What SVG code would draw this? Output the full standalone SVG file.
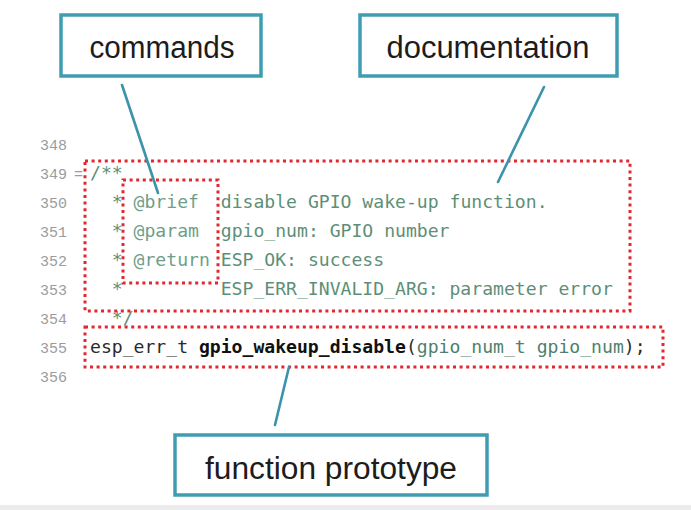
<svg xmlns="http://www.w3.org/2000/svg" width="691" height="510" viewBox="0 0 691 510">
  <style>
    .ln { font-family: "Liberation Mono", "DejaVu Sans Mono", monospace; font-size: 15px; fill: #9c9c9c; }
    .code { font-family: "DejaVu Sans Mono", "Liberation Mono", monospace; font-size: 18.1px; fill: #5d8f78; white-space: pre; }
    .tag { fill: #6f9e89; }
    .plain { fill: #2a2a2a; }
    .fn { fill: #111111; font-weight: bold; }
    .param { fill: #4f7f6c; }
    .mark { fill: none; stroke: #e2272e; stroke-width: 3; stroke-dasharray: 3 3.6; }
    .label rect { fill: #ffffff; stroke: #3f9db2; stroke-width: 3.5; }
    .label text { font-family: "Liberation Sans", Arial, sans-serif; font-size: 31px; fill: #1c1c1c; text-anchor: middle; }
    .conn line { stroke: #3a93aa; stroke-width: 2.6; stroke-linecap: round; }
  </style>

  <rect x="0" y="0" width="691" height="510" fill="#ffffff"/>
  <rect x="0" y="505" width="691" height="5" fill="#ececec"/>

  <!-- editor gutter: line numbers -->
  <g id="gutter">
    <text class="ln" x="40" y="150">348</text>
    <text class="ln" x="40" y="179">349</text>
    <text class="ln" x="74" y="179">=</text>
    <text class="ln" x="40" y="208">350</text>
    <text class="ln" x="40" y="237">351</text>
    <text class="ln" x="40" y="266">352</text>
    <text class="ln" x="40" y="295">353</text>
    <text class="ln" x="40" y="324">354</text>
    <text class="ln" x="40" y="353">355</text>
    <text class="ln" x="40" y="382">356</text>
  </g>

  <!-- source listing -->
  <g id="source">
    <text class="code" xml:space="preserve" x="90" y="179">/**</text>
    <text class="code" xml:space="preserve" x="90" y="208">  * <tspan class="tag">@brief</tspan>  disable GPIO wake-up function.</text>
    <text class="code" xml:space="preserve" x="90" y="237">  * <tspan class="tag">@param</tspan>  gpio_num: GPIO number</text>
    <text class="code" xml:space="preserve" x="90" y="266">  * <tspan class="tag">@return</tspan> ESP_OK: success</text>
    <text class="code" xml:space="preserve" x="90" y="295">  *         ESP_ERR_INVALID_ARG: parameter error</text>
    <text class="code" xml:space="preserve" x="90" y="324">  */</text>
    <text class="code" x="90" y="353"><tspan class="plain">esp_err_t </tspan><tspan class="fn">gpio_wakeup_disable</tspan><tspan class="plain">(</tspan><tspan class="param">gpio_num_t gpio_num</tspan><tspan class="plain">);</tspan></text>
  </g>

  <!-- dotted highlight frames -->
  <g id="highlights">
    <rect id="doc-frame" class="mark" x="85" y="161" width="545" height="150"/>
    <rect id="cmd-frame" class="mark" x="123" y="180" width="95" height="103"/>
    <rect id="proto-frame" class="mark" x="85" y="327" width="578" height="40"/>
  </g>

  <!-- leader lines -->
  <g id="connectors" class="conn">
    <line x1="122" y1="85" x2="158" y2="193"/>
    <line x1="544" y1="87" x2="498" y2="182"/>
    <line x1="289" y1="367" x2="275" y2="425"/>
  </g>

  <g id="commands" class="label">
    <rect x="61" y="15" width="200" height="61"/>
    <text x="162" y="58" textLength="145" lengthAdjust="spacingAndGlyphs">commands</text>
  </g>

  <g id="documentation" class="label">
    <rect x="360" y="15" width="257" height="61"/>
    <text x="488" y="58" textLength="203" lengthAdjust="spacingAndGlyphs">documentation</text>
  </g>

  <g id="function-prototype" class="label">
    <rect x="175" y="435" width="312" height="60"/>
    <text x="331" y="479" textLength="252" lengthAdjust="spacingAndGlyphs">function prototype</text>
  </g>
</svg>
